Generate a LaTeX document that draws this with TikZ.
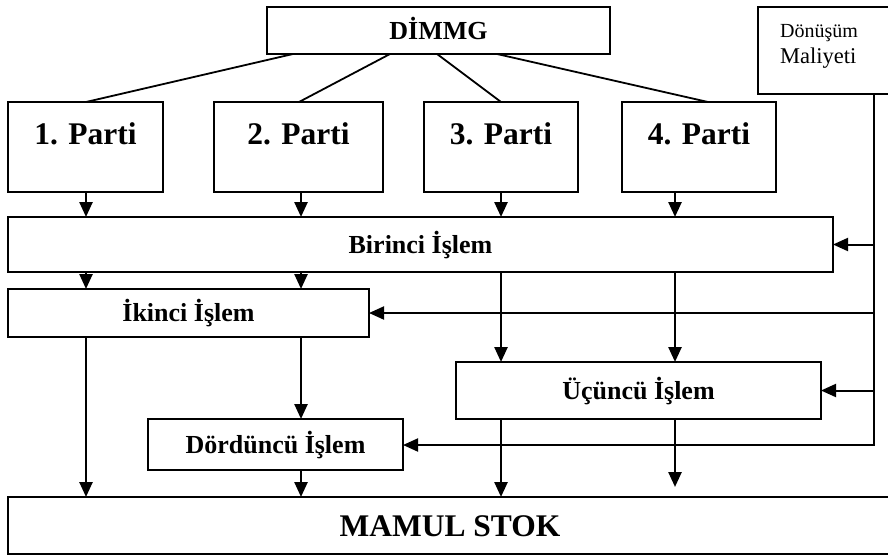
\documentclass[tikz,border=0pt]{standalone}
\usepackage{fontspec}
\setmainfont{Liberation Serif}
\usetikzlibrary{arrows.meta}
\begin{document}
\begin{tikzpicture}[x=1pt,y=-1pt,
  box/.style={draw, line width=1.6pt, anchor=north west, inner sep=0pt, outer sep=0pt,
    font=\bfseries\fontsize{26}{30}\selectfont, text height=17pt, text depth=0pt},
  partibox/.style={draw, line width=1.8pt, anchor=north west, inner sep=0pt, outer sep=0pt,
    font=\bfseries\fontsize{31.5}{36}\selectfont, text height=21pt, text depth=27pt,
    minimum width=#1, minimum height=90pt},
  bigbox/.style={draw, line width=1.6pt, anchor=north west, inner sep=0pt, outer sep=0pt,
    font=\bfseries\fontsize{31.5}{36}\selectfont, text height=21pt, text depth=0pt},
  tie/.style={line width=1.8pt},
  arr/.style={line width=2.5pt, -{Triangle[length=15pt,width=13pt]}},
]
\useasboundingbox (0,0) rectangle (888,557);
\clip (0,0) rectangle (888,557);

% column positions
\coordinate (k1) at (86,0);
\coordinate (k2) at (301,0);
\coordinate (k3) at (501,0);
\coordinate (k4) at (675,0);
\coordinate (c0) at (874,445);
\coordinate (free) at (675,487);

% boxes
\node[box, minimum width=343pt, minimum height=47pt] (dimmg) at (267,7) {DİMMG};
\node[draw, line width=1.6pt, anchor=north west, inner sep=0pt, outer sep=0pt,
      minimum width=136pt, minimum height=87pt] (dm) at (758,7) {};
\node[anchor=base west, inner sep=0pt, font=\fontsize{20}{24}\selectfont] (dmt1) at (780,37) {Dönüşüm};
\node[anchor=base west, inner sep=0pt, font=\fontsize{22.5}{26}\selectfont] (dmt2) at (780,63) {Maliyeti};

\node[partibox=155pt] (p1) at (8,102) {1. Parti};
\node[partibox=169pt] (p2) at (214,102) {2. Parti};
\node[partibox=154pt] (p3) at (424,102) {3. Parti};
\node[partibox=154pt] (p4) at (622,102) {4. Parti};

\node[box, minimum width=825pt, minimum height=55pt] (b1) at (8,217) {Birinci İşlem};
\node[box, minimum width=361pt, minimum height=48pt] (b2) at (8,289) {İkinci İşlem};
\node[box, minimum width=365pt, minimum height=57pt] (b3) at (456,362) {Üçüncü İşlem};
\node[box, minimum width=255pt, minimum height=51pt] (b4) at (148,419) {Dördüncü İşlem};
\node[bigbox, minimum width=884pt, minimum height=57pt] (ms) at (8,497) {MAMUL STOK};

% DİMMG ties
\draw[tie] ([xshift=26pt]dimmg.south west) -- ([xshift=78pt]p1.north west);
\draw[tie] ([xshift=123pt]dimmg.south west) -- ([xshift=85pt]p2.north west);
\draw[tie] ([xshift=170pt]dimmg.south west) -- ([xshift=77pt]p3.north west);
\draw[tie] ([xshift=230pt]dimmg.south west) -- ([xshift=86pt]p4.north west);

% parties to Birinci
\draw[arr] (p1.south -| k1) -- (b1.north -| k1);
\draw[arr] (p2.south -| k2) -- (b1.north -| k2);
\draw[arr] (p3.south -| k3) -- (b1.north -| k3);
\draw[arr] (p4.south -| k4) -- (b1.north -| k4);

% Birinci down
\draw[arr] (b1.south -| k1) -- (b2.north -| k1);
\draw[arr] (b1.south -| k2) -- (b2.north -| k2);
\draw[arr] (b1.south -| k3) -- (b3.north -| k3);
\draw[arr] (b1.south -| k4) -- (b3.north -| k4);

% Ikinci down
\draw[arr] (b2.south -| k1) -- (ms.north -| k1);
\draw[arr] (b2.south -| k2) -- (b4.north -| k2);
% Dorduncu down
\draw[arr] (b4.south -| k2) -- (ms.north -| k2);
% Ucuncu down
\draw[arr] (b3.south -| k3) -- (ms.north -| k3);
\draw[arr] (b3.south -| k4) -- (free);

% conversion cost feed
\draw[arr, line width=2pt] (dm.south -| c0) -- (c0) -- (c0 -| b4.east);
\draw[arr, line width=2pt] (b1.east -| c0) -- (b1.east);
\draw[arr, line width=2pt] (b2.east -| c0) -- (b2.east);
\draw[arr, line width=2pt] (b3.east -| c0) -- (b3.east);
\end{tikzpicture}
\end{document}
